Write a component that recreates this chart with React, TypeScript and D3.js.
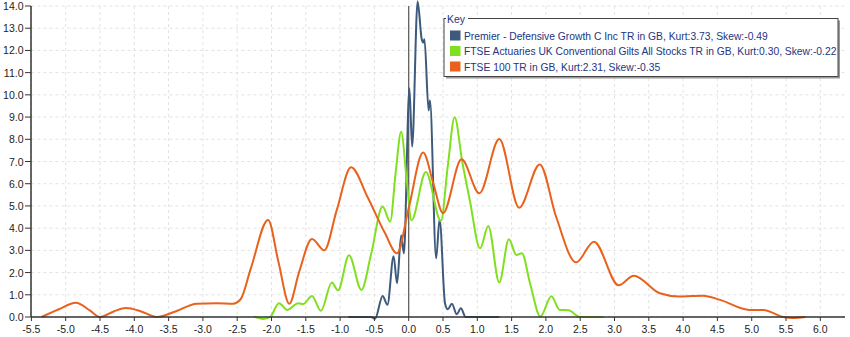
import React from "react";
import * as d3 from "d3";

const seriesNames = [
  "Premier - Defensive Growth C Inc TR in GB, Kurt:3.73, Skew:-0.49",
  "FTSE Actuaries UK Conventional Gilts All Stocks TR in GB, Kurt:0.30, Skew:-0.22",
  "FTSE 100 TR in GB, Kurt:2.31, Skew:-0.35",
];
const seriesColors = ["#3d5a7c", "#80e020", "#e8621e"];

const premierX = [-0.88, -0.55, -0.49, -0.38, -0.31, -0.22, -0.17, -0.11, -0.07, 0.01, 0.05, 0.13, 0.19, 0.21, 0.23, 0.29, 0.31, 0.4, 0.45, 0.53, 0.57, 0.63, 0.7, 0.76, 0.83, 1.32];
const premierY = [0, 0, -0.08, 0.95, 0.55, 2.74, 1.52, 3.67, 2.86, 10.3, 7.67, 14.2, 12.5, 12.35, 12.5, 9.3, 9.75, 2.64, 4.4, 0.6, 0.35, 0.6, 0.12, 0.39, 0, 0];

const giltsX = [-2.26, -2.12, -2.02, -1.89, -1.77, -1.61, -1.54, -1.41, -1.28, -1.12, -1.03, -0.87, -0.69, -0.55, -0.38, -0.27, -0.19, -0.11, -0.03, 0.04, 0.25, 0.47, 0.57, 0.67, 0.78, 0.89, 1.04, 1.16, 1.32, 1.46, 1.57, 1.65, 1.77, 1.92, 2.08, 2.2, 2.33, 2.5, 2.84];
const giltsY = [0.03, -0.09, 0, 0.62, 0.32, 0.62, 0.58, 0.95, 0.28, 1.55, 1.2, 2.78, 1.22, 2.8, 4.97, 4.29, 6.5, 8.34, 6.2, 4.35, 6.53, 4.32, 6.8, 8.99, 7.0, 5.27, 3.09, 4.1, 1.55, 3.5, 2.79, 2.87, 1.5, 0.02, 0.93, 0.32, 0.3, 0, 0];

const ftseX = [-5.35, -5.1, -4.85, -4.65, -4.5, -4.3, -4.12, -3.9, -3.67, -3.4, -3.09, -2.8, -2.56, -2.45, -2.3, -2.05, -1.9, -1.74, -1.6, -1.41, -1.23, -1.05, -0.84, -0.6, -0.35, -0.17, 0.0, 0.21, 0.36, 0.5, 0.77, 1.03, 1.32, 1.61, 1.91, 2.15, 2.44, 2.7, 3.06, 3.28, 3.66, 3.95, 4.29, 4.54, 4.97, 5.17, 5.46, 5.6, 5.78];
const ftseY = [0, 0.35, 0.64, 0.3, 0, 0.25, 0.4, 0.25, 0, 0.25, 0.6, 0.62, 0.6, 0.8, 2.2, 4.37, 2.5, 0.6, 2.0, 3.51, 3.0, 4.8, 6.74, 5.4, 3.8, 2.87, 4.9, 7.4, 6.0, 4.67, 7.1, 5.57, 8.01, 4.92, 6.87, 4.5, 2.46, 3.39, 1.43, 1.86, 1.07, 0.92, 0.96, 0.77, 0.32, 0.32, 0, -0.05, 0];

const xTicks = d3.range(-5.5, 6.01, 0.5);
const yTicks = d3.range(0, 14.01, 1);

const W = 850;
const H = 337;

export default function App() {
  const x = d3.scaleLinear().domain([-5.5, 6.36]).range([31.4, 845]);
  const y = d3.scaleLinear().domain([0, 14]).range([317, 6]);
  const line = d3
    .line<[number, number]>()
    .x((d) => x(d[0]))
    .y((d) => y(d[1]))
    .curve(d3.curveMonotoneX);
  const series = [
    d3.zip(premierX, premierY) as [number, number][],
    d3.zip(giltsX, giltsY) as [number, number][],
    d3.zip(ftseX, ftseY) as [number, number][],
  ];
  const font = "'Liberation Sans', Arial, sans-serif";
  const lx = 444;
  const ly = 18.5;
  return (
    <svg
      width={W}
      height={H}
      style={{ position: "absolute", left: 0, top: 0, background: "#fff" }}
      fontFamily={font}
    >
      {/* grid */}
      {xTicks.map((t) => (
        <line key={"gx" + t} x1={x(t)} x2={x(t)} y1={y(14)} y2={y(0)} stroke="#e2e2e2" strokeDasharray="3,3" />
      ))}
      {yTicks.map((t) => (
        <line key={"gy" + t} x1={x(-5.5)} x2={845} y1={y(t)} y2={y(t)} stroke="#e2e2e2" strokeDasharray="3,3" />
      ))}
      {/* zero line */}
      <line x1={x(0)} x2={x(0)} y1={y(14)} y2={y(0)} stroke="#555" strokeWidth={1.2} />
      {/* series */}
      {series.map((s, i) => (
        <path key={i} d={line(s) || ""} fill="none" stroke={seriesColors[i]} strokeWidth={2} />
      ))}
      {/* axes */}
      <line x1={31} x2={31} y1={y(14)} y2={y(0)} stroke="#333" strokeWidth={1.5} />
      <line x1={31} x2={845} y1={y(0)} y2={y(0)} stroke="#333" strokeWidth={1.5} />
      {yTicks.map((t) => (
        <g key={"yt" + t}>
          <line x1={25} x2={31} y1={y(t)} y2={y(t)} stroke="#333" />
          <text x={23.5} y={y(t) + 4} textAnchor="end" fontSize={10.5} fill="#222">
            {t.toFixed(1)}
          </text>
        </g>
      ))}
      {xTicks.map((t) => (
        <g key={"xt" + t}>
          <line x1={x(t)} x2={x(t)} y1={y(0)} y2={y(0) + 4} stroke="#333" />
          <text x={x(t)} y={333} textAnchor="middle" fontSize={10.5} fill="#222">
            {t.toFixed(1)}
          </text>
        </g>
      ))}
      {/* legend */}
      <rect x={lx + 2} y={ly + 2} width={394} height={58} fill="#999" />
      <rect x={lx} y={ly} width={394} height={58} fill="#fff" stroke="#444" strokeWidth={1} />
      <rect x={lx + 2} y={ly - 5} width={22} height={10} fill="#fff" />
      <text x={lx + 3} y={ly + 4} fontSize={10.5} fill="#233580">
        Key
      </text>
      {seriesNames.map((n, i) => (
        <g key={"lg" + i}>
          <rect x={450} y={30.5 + i * 15.5} width={10.5} height={10} fill={seriesColors[i]} />
          <text x={464} y={39.5 + i * 15.5} fontSize={10.3} fill="#233580">
            {n}
          </text>
        </g>
      ))}
    </svg>
  );
}
